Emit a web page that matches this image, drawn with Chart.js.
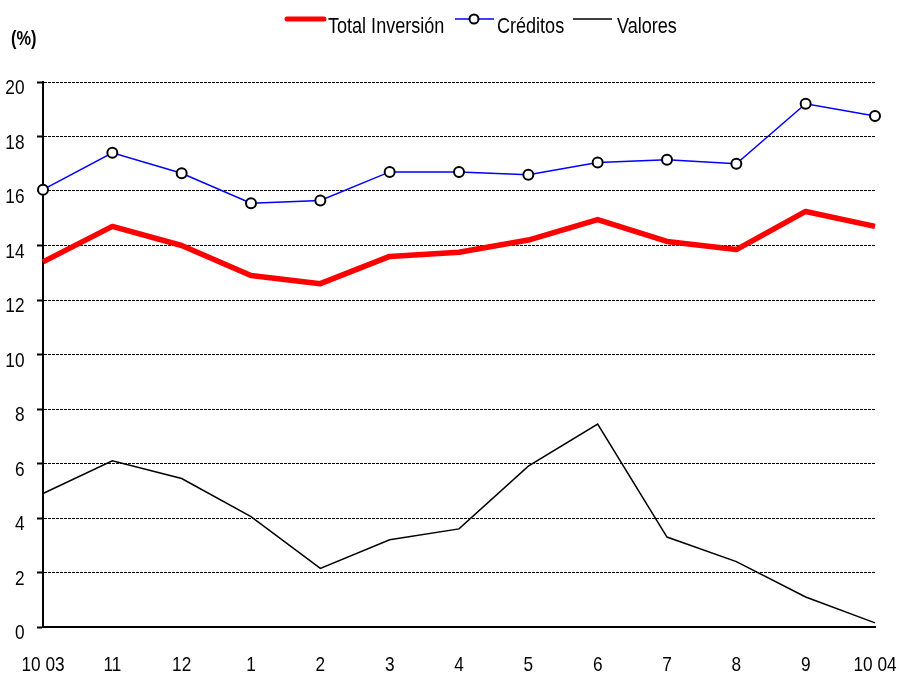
<!DOCTYPE html>
<html>
<head>
<meta charset="utf-8">
<script src="https://cdn.jsdelivr.net/npm/chart.js@4"></script>
<style>
  html, body { margin: 0; padding: 0; background: #fff; }
  #wrap { width: 899px; height: 675px; }
</style>
</head>
<body>
<div id="wrap"><canvas id="invChart" width="899" height="675"></canvas></div>
<script>
const months = ['10 03', '11', '12', '1', '2', '3', '4', '5', '6', '7', '8', '9', '10 04'];
const totalInversion = [13.4, 14.7, 14.0, 12.9, 12.6, 13.6, 13.75, 14.2, 14.95, 14.15, 13.85, 15.25, 14.7];
const creditos = [16.05, 17.4, 16.65, 15.55, 15.65, 16.7, 16.7, 16.6, 17.05, 17.15, 17.0, 19.2, 18.75];
const valores = [4.9, 6.1, 5.45, 4.05, 2.15, 3.2, 3.6, 5.9, 7.45, 3.3, 2.4, 1.1, 0.15];
const yTicks = [0, 2, 4, 6, 8, 10, 12, 14, 16, 18, 20];

const FONT = "'Liberation Sans Narrow', 'Liberation Sans', Arial, sans-serif";
const NARROW = 0.82; // no narrow face installed, so squeeze Liberation Sans

function narrowText(ctx, text, x, y, align) {
    ctx.save();
    ctx.translate(x, y);
    ctx.scale(NARROW, 1);
    ctx.textAlign = align;
    ctx.fillText(text, 0, 0);
    ctx.restore();
}

// tick labels, legend and "(%)" drawn here in a condensed face
const textPlugin = {
    id: 'narrowText',
    afterDraw(chart) {
        const ctx = chart.ctx;
        const xs = chart.scales.x, ys = chart.scales.y;
        ctx.save();
        ctx.fillStyle = '#000';
        ctx.textBaseline = 'alphabetic';

        ctx.font = '21px ' + FONT;
        ys.ticks.forEach(t => narrowText(ctx, String(t.value), 24.5, ys.getPixelForValue(t.value) + 12, 'right'));
        months.forEach((m, i) => narrowText(ctx, m, xs.getPixelForTick(i), 671, 'center'));

        ctx.font = 'bold 20px ' + FONT;
        narrowText(ctx, '(%)', 11, 45, 'left');

        ctx.font = '22px ' + FONT;
        const ly = 19, tb = 33;
        ctx.lineCap = 'round';
        ctx.strokeStyle = '#ff0000';
        ctx.lineWidth = 5;
        ctx.beginPath(); ctx.moveTo(287, ly); ctx.lineTo(324, ly); ctx.stroke();
        narrowText(ctx, 'Total Inversión', 328, tb, 'left');

        ctx.lineCap = 'butt';
        ctx.strokeStyle = '#0000ff';
        ctx.lineWidth = 1.5;
        ctx.beginPath(); ctx.moveTo(455, ly); ctx.lineTo(494, ly); ctx.stroke();
        ctx.beginPath(); ctx.arc(474, ly, 4.5, 0, Math.PI * 2);
        ctx.fillStyle = '#fff'; ctx.fill();
        ctx.strokeStyle = '#000'; ctx.lineWidth = 2; ctx.stroke();
        ctx.fillStyle = '#000';
        narrowText(ctx, 'Créditos', 497, tb, 'left');

        ctx.strokeStyle = '#000';
        ctx.lineWidth = 1.5;
        ctx.beginPath(); ctx.moveTo(573, ly); ctx.lineTo(612, ly); ctx.stroke();
        narrowText(ctx, 'Valores', 617, tb, 'left');
        ctx.restore();
    }
};

new Chart(document.getElementById('invChart').getContext('2d'), {
    type: 'line',
    data: {
        labels: months,
        datasets: [
            { label: 'Valores', data: valores, borderColor: '#000', borderWidth: 1.5, pointRadius: 0, tension: 0 },
            { label: 'Total Inversión', data: totalInversion, borderColor: '#ff0000', borderWidth: 5.5, pointRadius: 0, tension: 0, borderJoinStyle: 'round' },
            { label: 'Créditos', data: creditos, borderColor: '#0000ff', borderWidth: 1.5, pointRadius: 5, pointBackgroundColor: '#fff', pointBorderColor: '#000', pointBorderWidth: 2, tension: 0 }
        ]
    },
    options: {
        responsive: false,
        animation: false,
        layout: { padding: { top: 82, right: 24, left: 0, bottom: 0 } },
        plugins: { legend: { display: false }, tooltip: { enabled: false } },
        scales: {
            x: {
                offset: false,
                grid: { display: false, drawTicks: false },
                border: { display: true, color: '#000', width: 2 },
                ticks: { display: false, autoSkip: false },
                afterFit: s => { s.height = 48; s.paddingLeft = 0; s.paddingRight = 0; }
            },
            y: {
                min: 0, max: 20,
                afterBuildTicks: s => { s.ticks = yTicks.map(v => ({ value: v })); },
                grid: { color: '#000', lineWidth: 1, tickLength: 6, tickColor: '#000', tickWidth: 2 },
                border: { display: true, color: '#000', width: 2, dash: ctx => (ctx.tick && ctx.tick.value === 0 ? [] : [3, 1]) },
                ticks: { display: false },
                afterFit: s => { s.width = 43; s.paddingTop = 0; s.paddingBottom = 0; }
            }
        }
    },
    plugins: [textPlugin]
});
</script>
</body>
</html>
